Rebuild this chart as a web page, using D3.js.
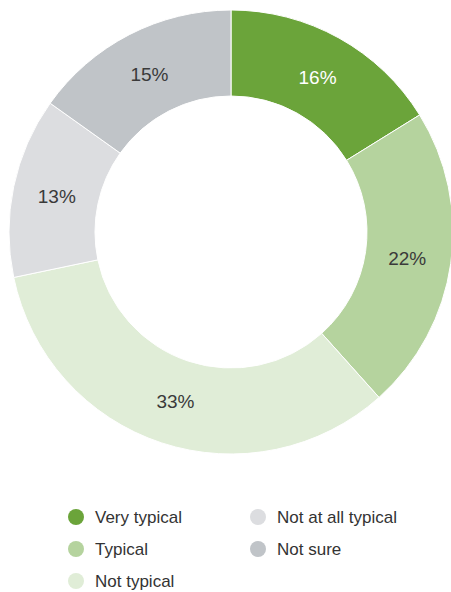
<!DOCTYPE html>
<html>
<head>
<meta charset="utf-8">
<script src="https://cdn.jsdelivr.net/npm/d3@7"></script>
<style>
  body { margin: 0; background: #fff; }
  svg { display: block; font-family: "Liberation Sans", Arial, sans-serif; }
</style>
</head>
<body>
<svg id="canvas" width="451" height="592"></svg>
<script>
// chart data
const categories = ['Very typical', 'Typical', 'Not typical', 'Not at all typical', 'Not sure']
const values = [16, 22, 33, 13, 15]
const colors = ['#6ba43a', '#b5d39e', '#e0edd7', '#dcdde0', '#c0c4c8']
const labelColors = ['#ffffff', '#3a3a3a', '#3a3a3a', '#3a3a3a', '#3a3a3a']

let canvas = d3.select('#canvas')

let cx = 231, cy = 232
let outerR = 222, innerR = 136

let pie = d3.pie().sort(null)
let arc = d3.arc().innerRadius(innerR).outerRadius(outerR)
let labelArc = d3.arc().innerRadius(178).outerRadius(178)

let slices = pie(values)

let g = canvas.append('g')
    .attr('transform', 'translate(' + cx + ',' + cy + ')')

g.selectAll('path')
    .data(slices)
    .enter()
    .append('path')
    .attr('d', arc)
    .attr('fill', (d, i) => colors[i])
    .attr('stroke', '#ffffff')
    .attr('stroke-width', 1)

g.selectAll('text')
    .data(slices)
    .enter()
    .append('text')
    .attr('transform', (d) => 'translate(' + labelArc.centroid(d) + ')')
    .attr('text-anchor', 'middle')
    .attr('dy', '0.38em')
    .attr('font-size', 19)
    .attr('fill', (d, i) => labelColors[i])
    .text((d) => d.data + '%')

// legend, two columns
let legendPos = [[76, 517], [76, 549], [76, 581], [258, 517], [258, 549]]

let legend = canvas.selectAll('g.legend')
    .data(categories)
    .enter()
    .append('g')
    .attr('class', 'legend')
    .attr('transform', (d, i) => 'translate(' + legendPos[i][0] + ',' + legendPos[i][1] + ')')

legend.append('circle')
    .attr('r', 8)
    .attr('fill', (d, i) => colors[i])

legend.append('text')
    .attr('x', 19)
    .attr('dy', '0.35em')
    .attr('font-size', 17)
    .attr('fill', '#333')
    .text((d) => d)
</script>
</body>
</html>
